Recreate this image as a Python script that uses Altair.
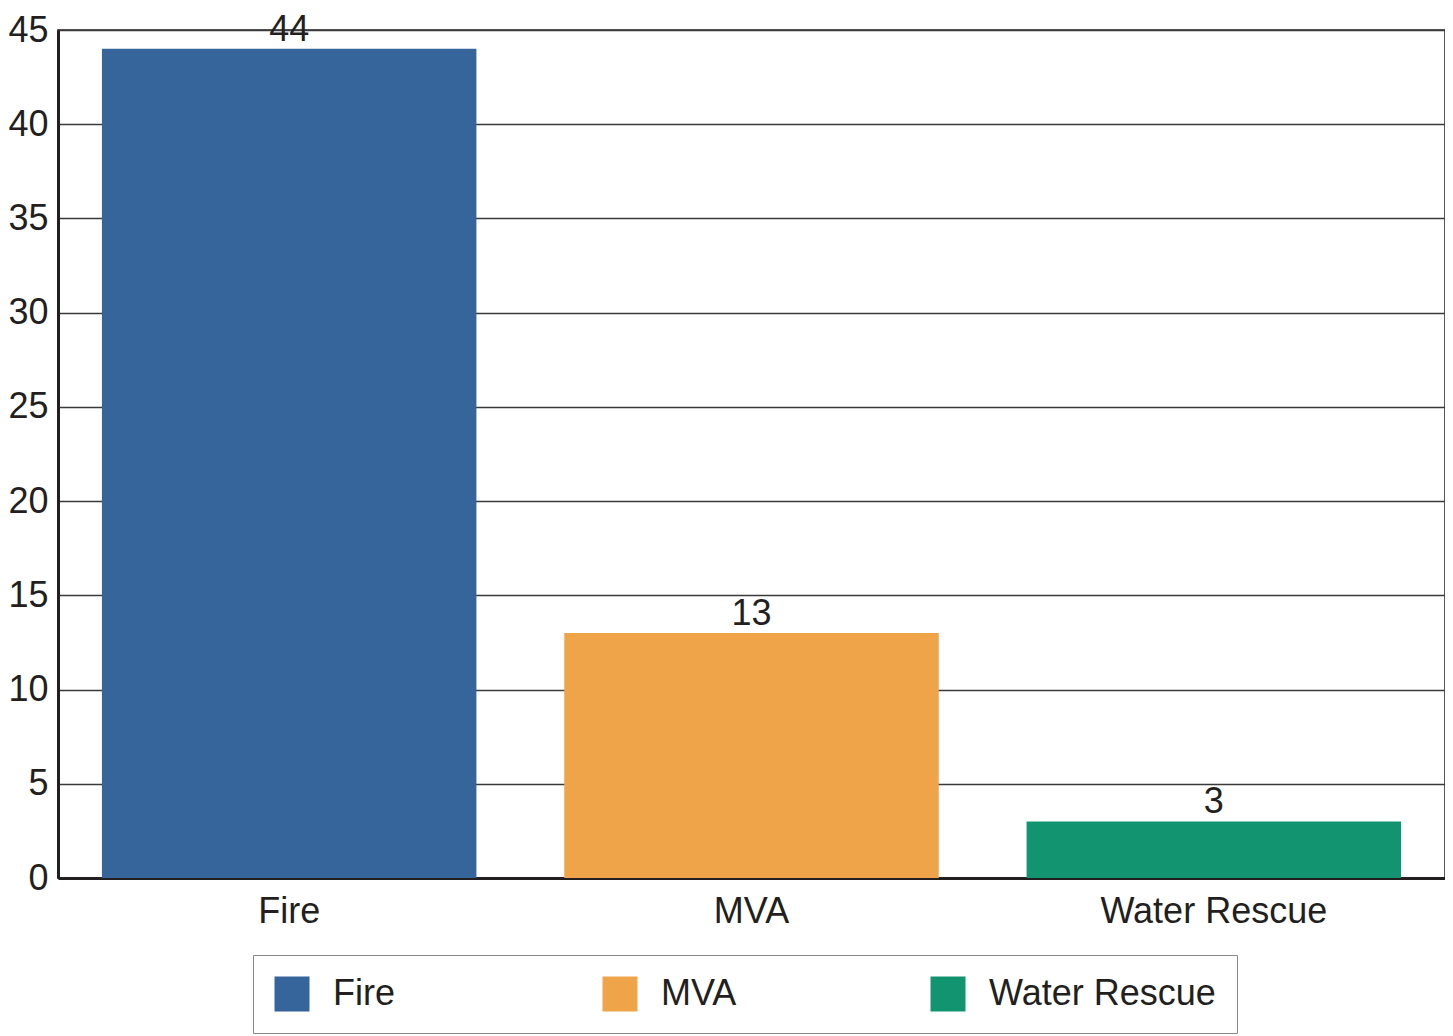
import altair as alt
import pandas as pd

categories = ["Fire", "MVA", "Water Rescue"]
counts = [44, 13, 3]
colors = ["#36659B", "#F0A44A", "#129471"]
y_ticks = [0, 5, 10, 15, 20, 25, 30, 35, 40, 45]

FONT = "Liberation Sans"
INK = "#231f20"

df = pd.DataFrame({"type": categories, "count": counts})

base = alt.Chart(df).encode(
    x=alt.X(
        "type:N",
        sort=categories,
        scale=alt.Scale(paddingInner=0.19, paddingOuter=0.095),
        axis=alt.Axis(
            title=None, labelAngle=0, labelFontSize=36, labelFont=FONT,
            labelColor=INK, labelPadding=16, ticks=False, domainColor=INK,
            domainWidth=3, grid=False, labelLimit=400,
        ),
    ),
    y=alt.Y(
        "count:Q",
        scale=alt.Scale(domain=[0, 45], nice=False),
        axis=alt.Axis(
            values=y_ticks, title=None, labelFontSize=36, labelFont=FONT,
            labelColor=INK, labelPadding=10, ticks=False, domainColor=INK,
            domainWidth=3, grid=True, gridColor="#3a3a3a", gridWidth=1.5,
        ),
    ),
)

bars = base.mark_bar().encode(
    color=alt.Color(
        "type:N",
        scale=alt.Scale(domain=categories, range=colors),
        legend=alt.Legend(
            title=None, orient="none", legendX=195, legendY=925,
            direction="horizontal", columns=3, gridAlign="all",
            columnPadding=42, symbolType="square", symbolSize=1225,
            symbolStrokeWidth=0, symbolOpacity=1, labelFontSize=36, labelFont=FONT,
            labelColor=INK, labelOffset=23, labelLimit=400, padding=21,
            strokeColor="#888888",
        ),
    )
)

text = base.mark_text(
    baseline="alphabetic", dy=-8, fontSize=36, font=FONT, color=INK
).encode(text="count:Q")

chart = (
    (bars + text)
    .properties(
        width=1387,
        height=848,
        padding={"left": 50, "top": 22, "right": 0, "bottom": 156},
        autosize=alt.AutoSizeParams(type="none"),
    )
    .configure_view(stroke=INK, strokeWidth=1.5)
)

chart.save("out.html", embed_options={"renderer": "svg", "actions": False})
